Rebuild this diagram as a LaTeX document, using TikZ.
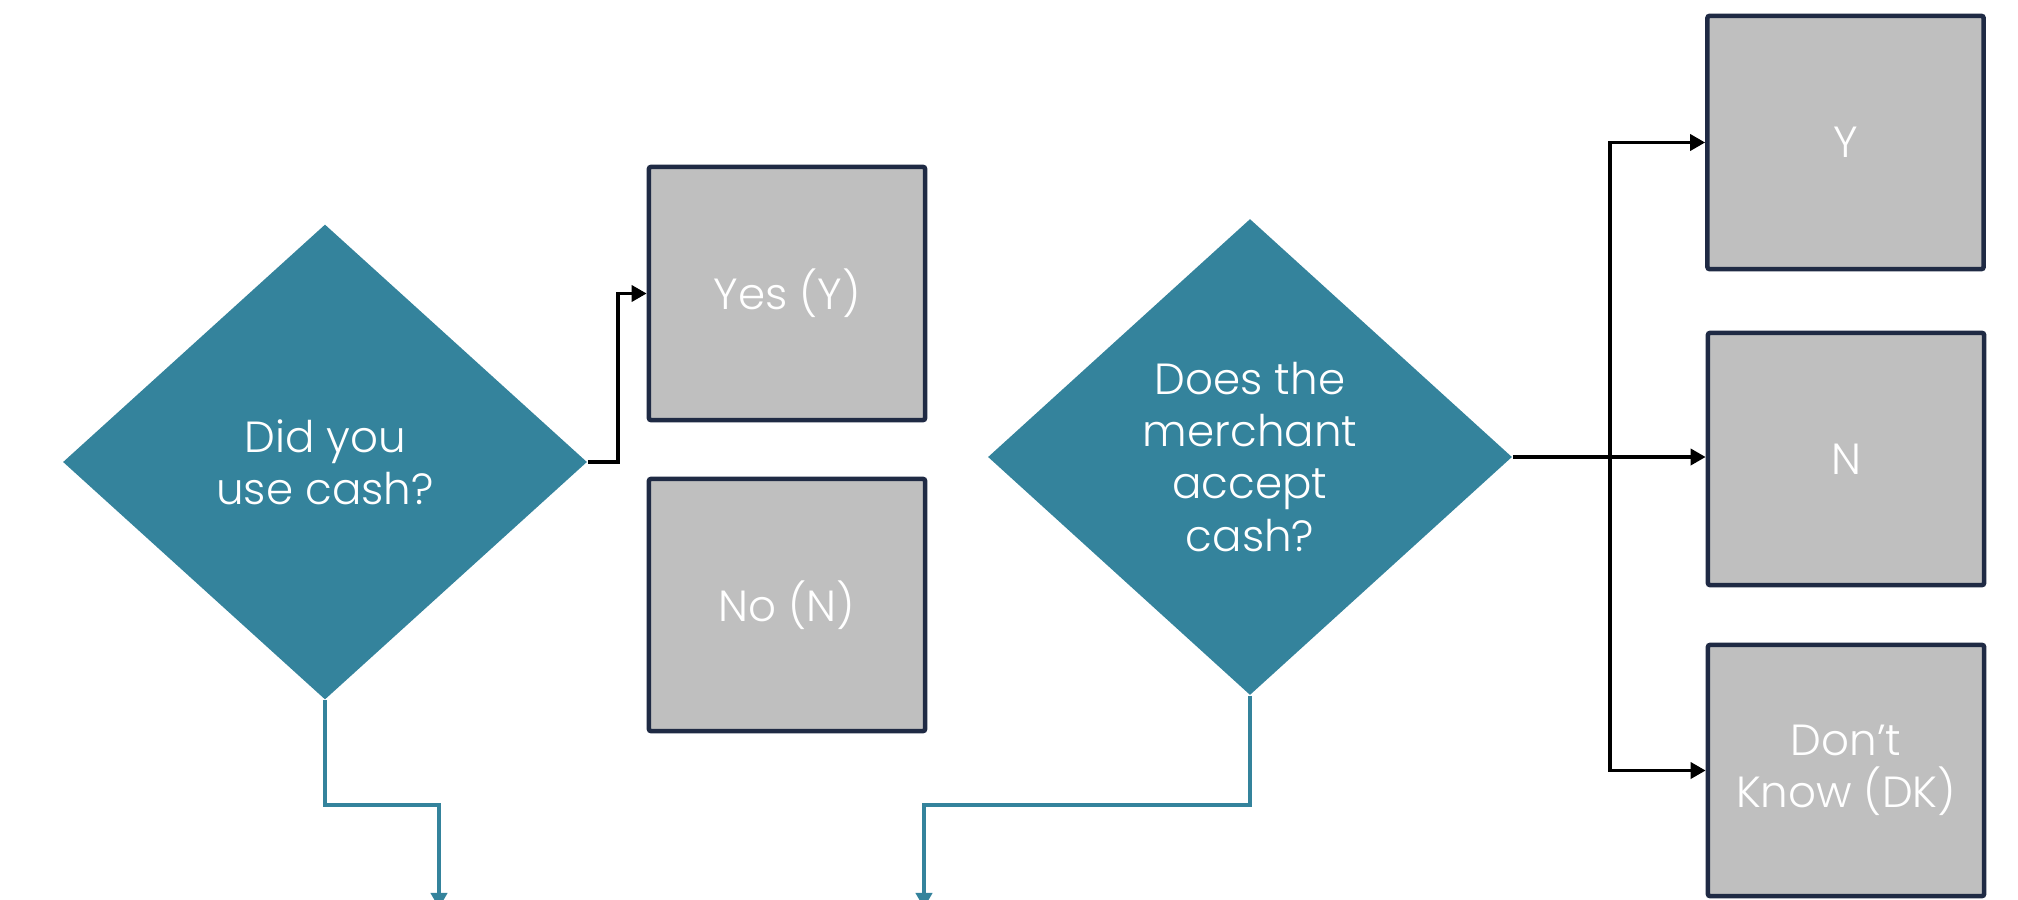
\documentclass[tikz,border=0pt]{standalone}
\usepackage{fontspec}
\setmainfont{Poppins Light}
\usetikzlibrary{shapes.geometric,arrows.meta}
\definecolor{teal1}{RGB}{52,131,156}
\definecolor{navy1}{RGB}{31,42,68}
\definecolor{grey1}{RGB}{191,191,191}
\tikzset{
  decision/.style={diamond, fill=teal1, draw=none, inner sep=0pt,
    text=white, align=center, font=\fontsize{12.4}{14.8}\selectfont},
  answer/.style={rectangle, fill=grey1, draw=navy1, line width=1.3pt,
    rounded corners=0.6pt, inner sep=0pt, text=white, align=center,
    font=\fontsize{12.4}{14.8}\selectfont},
  link/.style={draw=black, line width=1pt, -{Triangle[length=4.3pt,width=4.6pt]}},
  flow/.style={draw=teal1, line width=1.25pt, -{Triangle[length=4.3pt,width=4.6pt]}},
}
\begin{document}
\begin{tikzpicture}[x=0.01cm,y=-0.01cm]
\useasboundingbox (0,0) rectangle (2018,900);
\clip (0,0) rectangle (2018,900);

% decisions
\node[decision, minimum width=5.24cm, minimum height=4.75cm] (d1) at (325,462) {Did you\\use cash?};
\node[decision, minimum width=5.24cm, minimum height=4.76cm] (d2) at (1250,457) {Does the\\merchant\\accept\\cash?};

% answers to the first question
\node[answer, minimum width=2.76cm, minimum height=2.53cm] (yes) at (787,293.5) {Yes (Y)};
\node[answer, minimum width=2.76cm, minimum height=2.52cm] (no) at (787,605) {No (N)};

% answers to the second question
\node[answer, minimum width=2.76cm, minimum height=2.53cm] (ry) at (1845.5,142.5) {Y};
\node[answer, minimum width=2.76cm, minimum height=2.52cm] (rn) at (1846,459) {N};
\node[answer, minimum width=2.76cm, minimum height=2.51cm] (rdk) at (1846,770.5) {Don’t\\Know (DK)};

% branch points and free ends
\coordinate (j1) at (618,462);
\coordinate (j2) at (1610,457);
\coordinate (e1) at (439,908);
\coordinate (e2) at (924,908);

% black connectors
\draw[link] (d1.east) -- (j1) |- (yes.west);
\draw[line width=1pt] (d2.east) -- (j2);
\draw[link] (j2) -- (j2 -| rn.west);
\draw[link] (j2) |- (ry.west);
\draw[link] (j2) |- (rdk.west);

% teal connectors leaving the page
\draw[flow] (d1.south) -- (325,805) -| (e1);
\draw[flow] (d2.south) -- (1250,805) -| (e2);
\end{tikzpicture}
\end{document}
